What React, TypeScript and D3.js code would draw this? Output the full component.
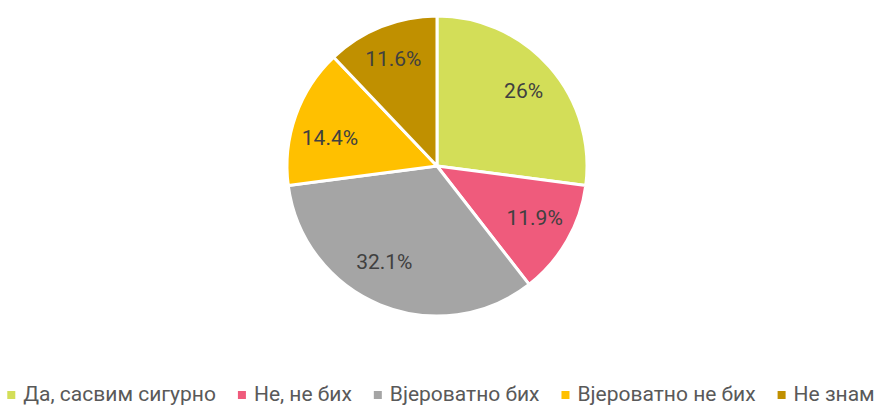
import React, { useEffect, useRef } from "react";
import * as d3 from "d3";

const categories = ["Да, сасвим сигурно", "Не, не бих", "Вјероватно бих", "Вјероватно не бих", "Не знам"];
const values = [26, 11.9, 32.1, 14.4, 11.6];
const labels = ["26%", "11.9%", "32.1%", "14.4%", "11.6%"];
const colors = ["#D3DE58", "#EF5B7C", "#A5A5A5", "#FFC000", "#C09000"];

// small layout nudges for the in-slice labels (pixels), like the reference's label placement
const labelNudge: [number, number][] = [[2, -1], [0, -4], [-10, -8], [-1, 9], [-2, -3]];

const W = 876;
const H = 405;

export default function App() {
  const ref = useRef<SVGSVGElement | null>(null);

  useEffect(() => {
    const svg = d3.select(ref.current);
    svg.selectAll("*").remove();
    const cx = 437, cy = 166, r = 150;
    const pie = d3.pie<number>().sort(null).value((d) => d);
    const arcs = pie(values);
    const arc = d3.arc<d3.PieArcDatum<number>>().innerRadius(0).outerRadius(r);
    const labelArc = d3.arc<d3.PieArcDatum<number>>().innerRadius(r * 0.75).outerRadius(r * 0.75);
    const g = svg.append("g").attr("transform", `translate(${cx},${cy})`);
    g.selectAll("path")
      .data(arcs)
      .join("path")
      .attr("d", arc as any)
      .attr("fill", (_, i) => colors[i])
      .attr("stroke", "#fff")
      .attr("stroke-width", 3)
      .attr("stroke-linejoin", "round");
    g.selectAll("text.lbl")
      .data(arcs)
      .join("text")
      .attr("class", "lbl")
      .attr("transform", (d, i) => {
        const [x, y] = labelArc.centroid(d);
        return `translate(${x + labelNudge[i][0]},${y + labelNudge[i][1]})`;
      })
      .attr("text-anchor", "middle")
      .attr("dy", "0.35em")
      .attr("font-family", "Roboto")
      .attr("font-size", 21)
      .attr("fill", "#404040")
      .text((_, i) => labels[i]);

    // legend
    const lg = svg.append("g");
    const items = lg
      .selectAll("g.item")
      .data(categories)
      .join("g")
      .attr("class", "item");
    items
      .append("rect")
      .attr("width", 8)
      .attr("height", 8)
      .attr("y", 391)
      .attr("fill", (_, i) => colors[i]);
    const textOff = 16;
    const texts = items
      .append("text")
      .attr("x", textOff)
      .attr("y", 401)
      .attr("font-family", "Roboto")
      .attr("font-size", 21)
      .attr("fill", "#595959")
      .text((d) => d);
    const widths: number[] = [];
    texts.each(function () {
      widths.push((this as SVGTextElement).getComputedTextLength());
    });
    const gap = 22;
    const total = widths.reduce((a, w) => a + textOff + w, 0) + gap * (widths.length - 1);
    let x = 441 - total / 2;
    items.attr("transform", (_, i) => {
      const t = `translate(${x},0)`;
      x += textOff + widths[i] + gap;
      return t;
    });
  }, []);

  return (
    <svg ref={ref} width={W} height={H} style={{ display: "block", position: "absolute", left: 0, top: 0 }} />
  );
}
